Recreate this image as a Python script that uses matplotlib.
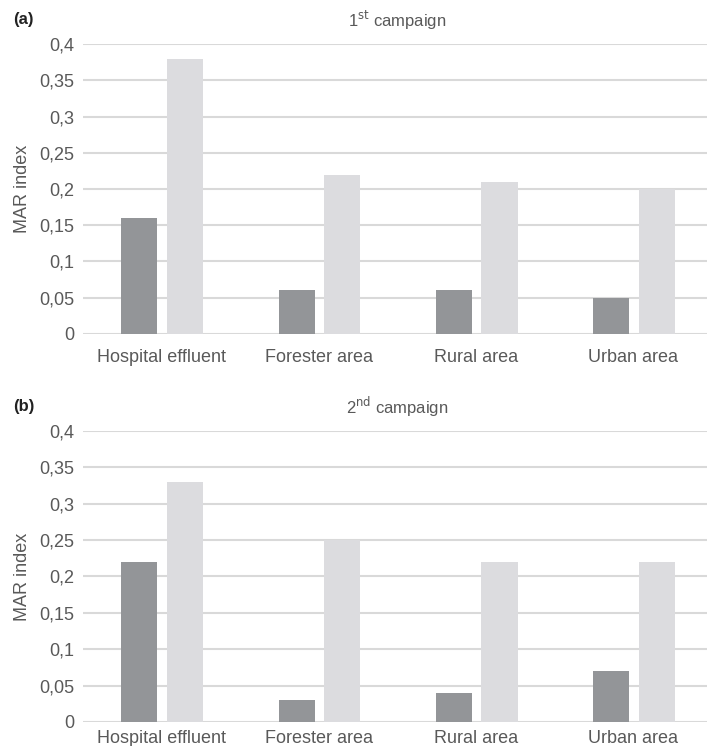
import numpy as np
import matplotlib.pyplot as plt

plt.rcParams['font.family'] = ['Liberation Sans', 'DejaVu Sans']

# MAR index per sampling site, two bars per site
sites = ['Hospital effluent', 'Forester area', 'Rural area', 'Urban area']
camp1_dark = [0.16, 0.06, 0.06, 0.05]
camp1_light = [0.38, 0.22, 0.21, 0.20]
camp2_dark = [0.22, 0.03, 0.04, 0.07]
camp2_light = [0.33, 0.25, 0.22, 0.22]
yticks = [0, 0.05, 0.1, 0.15, 0.2, 0.25, 0.3, 0.35, 0.4]
yticklabels = ['0', '0,05', '0,1', '0,15', '0,2', '0,25', '0,3', '0,35', '0,4']

col_dark = '#939598'
col_light = '#dcdcdf'
txt = '#595959'
grid_col = '#d9d9d9'

fig = plt.figure(figsize=(7.07, 7.46), dpi=100)
ax1 = fig.add_axes([0.117, 0.5523, 0.89, 0.3887])
ax2 = fig.add_axes([0.117, 0.0322, 0.89, 0.3901])

x = np.arange(len(sites))
w = 0.23

def draw(ax, dark, light, title_base, title_sup, tag, xpad):
    ax.bar(x - 0.14, dark, w, color=col_dark, zorder=3)
    ax.bar(x + 0.15, light, w, color=col_light, zorder=3)
    ax.set_xlim(-0.5, 3.5)
    ax.set_ylim(0, 0.4)
    ax.set_yticks(yticks)
    ax.set_yticklabels(yticklabels)
    ax.set_xticks(x)
    ax.set_xticklabels(sites)
    ax.yaxis.grid(True, color=grid_col, linewidth=1.5, zorder=0)
    ax.set_axisbelow(True)
    for s in ax.spines.values():
        s.set_visible(False)
    ax.tick_params(length=0, labelsize=13, colors=txt, pad=6)
    ax.tick_params(axis='x', pad=xpad)
    ax.set_ylabel('MAR index', fontsize=13, color=txt, labelpad=6)
    ax.set_title(title_base + '$^{\\rm ' + title_sup + '}$' + ' campaign',
                 fontsize=12, color=txt, pad=12)
    ax.text(-0.11, 1.07, tag, transform=ax.transAxes, fontsize=12,
            fontweight='bold', color='#222222')

draw(ax1, camp1_dark, camp1_light, '1', 'st', '(a)', 11)
draw(ax2, camp2_dark, camp2_light, '2', 'nd', '(b)', 6)

fig.savefig('out.png', dpi=100)
